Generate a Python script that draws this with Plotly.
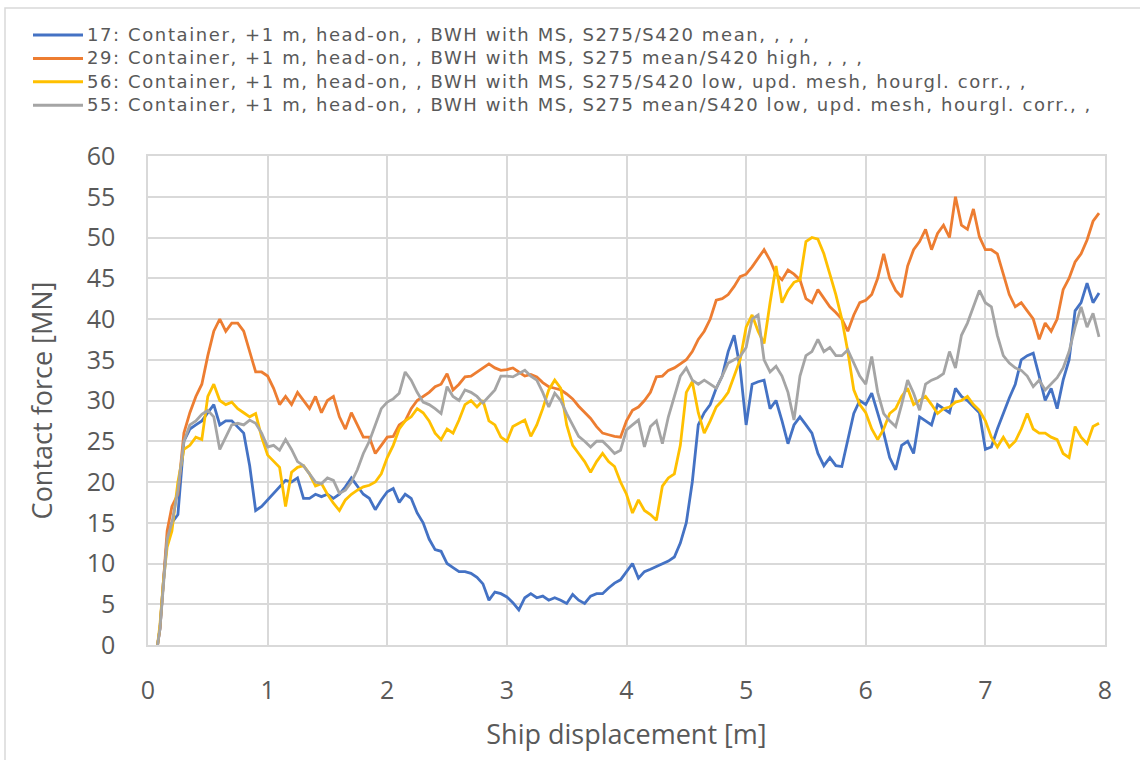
import plotly.graph_objects as go

displacement = [0.08, 0.10, 0.13, 0.16, 0.20,
    0.25, 0.30, 0.35, 0.40, 0.45, 0.50, 0.55, 0.60, 0.65, 0.70, 0.75, 0.80, 0.85, 0.90, 0.95,
    1.00, 1.05, 1.10, 1.15, 1.20, 1.25, 1.30, 1.35, 1.40, 1.45, 1.50, 1.55, 1.60, 1.65, 1.70, 1.75, 1.80, 1.85, 1.90, 1.95,
    2.00, 2.05, 2.10, 2.15, 2.20, 2.25, 2.30, 2.35, 2.40, 2.45, 2.50, 2.55, 2.60, 2.65, 2.70, 2.75, 2.80, 2.85, 2.90, 2.95,
    3.00, 3.05, 3.10, 3.15, 3.20, 3.25, 3.30, 3.35, 3.40, 3.45, 3.50, 3.55, 3.60, 3.65, 3.70, 3.75, 3.80, 3.85, 3.90, 3.95,
    4.00, 4.05, 4.10, 4.15, 4.20, 4.25, 4.30, 4.35, 4.40, 4.45, 4.50, 4.55, 4.60, 4.65, 4.70, 4.75, 4.80, 4.85, 4.90, 4.95,
    5.00, 5.05, 5.10, 5.15, 5.20, 5.25, 5.30, 5.35, 5.40, 5.45, 5.50, 5.55, 5.60, 5.65, 5.70, 5.75, 5.80, 5.85, 5.90, 5.95,
    6.00, 6.05, 6.10, 6.15, 6.20, 6.25, 6.30, 6.35, 6.40, 6.45, 6.50, 6.55, 6.60, 6.65, 6.70, 6.75, 6.80, 6.85, 6.90, 6.95,
    7.00, 7.05, 7.10, 7.15, 7.20, 7.25, 7.30, 7.35, 7.40, 7.45, 7.50, 7.55, 7.60, 7.65, 7.70, 7.75, 7.80, 7.85, 7.90, 7.95]

force_17 = [0, 2, 8, 13, 15,
    16, 25, 26.5, 27, 27.5, 28.5, 29.5, 27, 27.5, 27.5, 26.8, 26, 22, 16.5, 17,
    17.8, 18.6, 19.5, 20.2, 20, 20.5, 18, 18, 18.5, 18.2, 18.5, 18, 18.5, 19.4, 20.5, 19.5, 18.5, 18, 16.6, 17.8,
    18.8, 19.2, 17.5, 18.5, 18, 16.2, 15, 13, 11.7, 11.5, 10, 9.5, 9, 9, 8.8, 8.3, 7.5, 5.5, 6.5, 6.3,
    5.9, 5.2, 4.3, 5.8, 6.3, 5.8, 6, 5.5, 5.8, 5.5, 5.1, 6.2, 5.5, 5.1, 6, 6.3, 6.3, 7, 7.6, 8,
    9, 10, 8.2, 9, 9.3, 9.6, 10, 10.3, 10.8, 12.5, 15, 20, 27, 28.5, 29.5, 31.5, 33, 36, 38, 34,
    27, 32, 32.3, 32.5, 29, 30, 27.5, 24.7, 27, 28, 27, 26, 23.5, 22, 23, 22, 21.9, 25, 28.4, 30,
    29.5, 30.9, 28.4, 26, 23, 21.5, 24.5, 25, 23.5, 28, 27.5, 27, 29.5, 29, 28.5, 31.5, 30.5, 30, 29.2, 28.5,
    24, 24.3, 26.5, 28.5, 30.3, 32, 35, 35.5, 35.8, 33, 30, 31.5, 29, 32.5, 35, 41, 42, 44.4, 42, 43.2]

force_29 = [0, 2, 8, 14, 17,
    18.5, 26, 28.5, 30.5, 32, 35.5, 38.5, 40, 38.5, 39.5, 39.5, 38.5, 36, 33.5, 33.5,
    33, 31.5, 29.5, 30.5, 29.5, 31, 30, 29, 30.5, 28.5, 30, 30.5, 28, 26.5, 28.5, 27, 25.5, 25.5, 23.5, 24.5,
    25.5, 25.6, 27, 27.5, 29, 30, 30.5, 31, 31.7, 32, 33.3, 31.3, 32, 32.9, 33, 33.5, 34, 34.5, 34, 33.7,
    33.8, 34, 33.5, 33, 33.2, 32.9, 32.2, 31.7, 31.5, 31.3, 30.8, 30.2, 29.3, 28.5, 27.8, 26.8, 26, 25.8, 25.6, 25.5,
    27.5, 28.8, 29.2, 30, 31, 32.9, 33, 33.7, 34, 34.5, 35, 36, 37.5, 38.5, 40, 42.3, 42.5, 43, 44, 45.2,
    45.5, 46.4, 47.5, 48.5, 47.2, 45.5, 44.8, 46, 45.5, 44.8, 42.5, 42, 43.6, 42.5, 41.5, 40.8, 40, 38.5, 40.5, 42,
    42.3, 43, 45, 48, 45, 43.5, 42.7, 46.5, 48.5, 49.5, 51, 48.5, 50.5, 51.5, 50, 55, 51.5, 51, 53.5, 50.1,
    48.5, 48.5, 48, 45.5, 43, 41.5, 42, 41, 40, 37.5, 39.5, 38.5, 40, 43.6, 45, 47, 48, 49.7, 52, 53]

force_56 = [0, 2.5, 8, 12, 14,
    20, 24, 24.5, 25.5, 25.2, 30.5, 32, 30, 29.5, 29.8, 29, 28.5, 28, 28.4, 25.5,
    23.3, 22.5, 21.8, 17, 21.2, 21.8, 22, 21, 19.5, 19.8, 18.5, 17.4, 16.5, 17.8, 18.5, 19, 19.4, 19.6, 20, 21,
    23, 24.5, 26.5, 27.5, 28, 29, 28.5, 27.5, 26, 25.2, 26.5, 26, 27.6, 29.5, 30, 29.2, 30, 27.5, 27, 25.5,
    25, 26.8, 27.2, 27.6, 25.6, 27, 29, 31.3, 32.5, 31.5, 27, 24.5, 23.5, 22.5, 21.2, 22.5, 23.5, 22.5, 21.9, 20,
    18.5, 16.2, 17.8, 16.5, 16, 15.3, 19.5, 20.5, 21, 24.5, 31, 32.3, 28.5, 26, 27.5, 29.2, 30, 31, 33, 35,
    39, 40.5, 38.5, 37, 42, 46.5, 42, 43.5, 44.5, 44.8, 49.5, 50, 49.8, 48, 45.5, 43, 40, 36, 31.3, 29.5,
    28.5, 26.5, 25.2, 26.5, 28.4, 29, 30.5, 31.5, 29.5, 30, 30.5, 29.5, 28.4, 29, 29.2, 29.8, 30, 30.5, 29.5, 28.8,
    27.5, 25.5, 24.3, 25.5, 24.3, 25, 26.5, 28.4, 26.5, 26, 26, 25.5, 25.2, 23.5, 23, 26.8, 25.5, 24.7, 26.8, 27.2]

force_55 = [0, 2, 7.5, 13, 15,
    19, 25, 27, 27.5, 28.3, 28.8, 28, 24, 25.5, 27, 27.2, 27, 27.6, 27.2, 26,
    24.3, 24.5, 23.9, 25.2, 24, 22.5, 22, 21, 20, 19.8, 20.5, 20.2, 18.6, 19, 20, 21.5, 23.5, 25, 27, 29,
    29.8, 30.2, 30.9, 33.5, 32.5, 31, 29.8, 29.5, 29, 28.4, 31.7, 30.5, 30, 31.3, 31, 30.5, 29.7, 30.5, 31.3, 33,
    33, 32.9, 33.3, 33.7, 33, 32.5, 31, 29.2, 30.9, 30, 28.4, 27, 25.6, 25, 24.3, 25, 25, 24.3, 23.5, 23.9,
    26.4, 27, 27.6, 24.3, 26.8, 27.5, 24.7, 28, 30.5, 33, 34, 32.5, 32, 32.5, 32, 31.5, 33, 34.6, 35, 35.4,
    36.5, 40, 40.5, 35, 33.5, 34.2, 33, 31, 27.6, 33, 35.5, 36, 37.5, 36, 36.5, 35.5, 35.5, 36.2, 34.6, 33,
    32, 35.4, 31, 28.4, 27.5, 26.8, 29.5, 32.5, 30.9, 28.8, 32, 32.5, 32.8, 33.3, 36, 34, 38, 39.5, 41.5, 43.5,
    42, 41.5, 38, 35.5, 34.6, 34, 33.7, 33, 31.7, 32.5, 31.3, 32, 32.8, 34, 36, 39, 41.5, 39, 40.7, 37.8]

series_names = [
    "17: Container, +1 m, head-on, , BWH with MS, S275/S420 mean, , , ,",
    "29: Container, +1 m, head-on, , BWH with MS, S275 mean/S420 high, , , ,",
    "56: Container, +1 m, head-on, , BWH with MS, S275/S420 low, upd. mesh, hourgl. corr., ,",
    "55: Container, +1 m, head-on, , BWH with MS, S275 mean/S420 low, upd. mesh, hourgl. corr., ,",
]
series_colors = ["#4472C4", "#ED7D31", "#FFC000", "#A5A5A5"]
series_values = [force_17, force_29, force_56, force_55]

x_ticks = [0, 1, 2, 3, 4, 5, 6, 7, 8]
y_ticks = [0, 5, 10, 15, 20, 25, 30, 35, 40, 45, 50, 55, 60]

# plot-area geometry in pixels (layout only)
W, H = 1140, 760
PL, PR, PT, PB = 148, 1105, 156, 645


def px_x(px):
    return (px - PL) / (PR - PL)


def px_y(py):
    return (PB - py) / (PB - PT)


font_family = "Open Sans, Noto Sans, sans-serif"
legend_family = "DejaVu Sans, Open Sans, sans-serif"
legend_size = 18
row_h = 1.3 * legend_size
legend_top = 35 - row_h / 2
text_color = "#595959"
grid_color = "#D9D9D9"

fig = go.Figure()
for name, color, vals in zip(series_names, series_colors, series_values):
    fig.add_trace(go.Scatter(x=displacement, y=vals, mode="lines", name=name,
                             line=dict(color=color, width=2.8), showlegend=False))

# legend drawn as line samples + one multi-line text block
shapes = [dict(type="rect", xref="paper", yref="paper",
               x0=px_x(5), x1=px_x(1160), y0=px_y(8), y1=px_y(780),
               line=dict(color="#D9D9D9", width=1.5), fillcolor="rgba(0,0,0,0)", layer="below")]
for i, color in enumerate(series_colors):
    yc = legend_top + row_h * (i + 0.5)
    shapes.append(dict(type="line", xref="paper", yref="paper",
                       x0=px_x(33), x1=px_x(83), y0=px_y(yc), y1=px_y(yc),
                       line=dict(color=color, width=3)))
legend_text = "<br>".join('<span style="letter-spacing:1.6px">' + n + "</span>" for n in series_names)
annotations = [dict(xref="paper", yref="paper", x=px_x(86), y=px_y(legend_top),
                    xanchor="left", yanchor="top", align="left", showarrow=False, borderpad=0,
                    text=legend_text,
                    font=dict(size=legend_size, color=text_color, family=legend_family))]

fig.update_layout(
    width=W, height=H,
    margin=dict(l=PL, r=W - PR, t=PT, b=H - PB, autoexpand=False),
    paper_bgcolor="white", plot_bgcolor="white",
    font=dict(family=font_family, color=text_color),
    showlegend=False,
    shapes=shapes,
    annotations=annotations,
    xaxis=dict(
        range=[0, 8], tickvals=x_ticks, showgrid=True, gridcolor=grid_color, gridwidth=1.5,
        showline=True, linecolor=grid_color, linewidth=1.5, mirror=True, zeroline=False,
        ticks="", tickfont=dict(size=25, color=text_color), ticklabelstandoff=22,
        title=dict(text="Ship displacement [m]", font=dict(size=27, color=text_color), standoff=20),
    ),
    yaxis=dict(
        range=[0, 60], tickvals=y_ticks, showgrid=True, gridcolor=grid_color, gridwidth=1.5,
        showline=True, linecolor=grid_color, linewidth=1.5, mirror=True, zeroline=False,
        ticks="", tickfont=dict(size=25, color=text_color), ticklabelstandoff=26,
        title=dict(text="Contact force [MN]", font=dict(size=27, color=text_color), standoff=26),
    ),
)

fig.write_html("out.html")
